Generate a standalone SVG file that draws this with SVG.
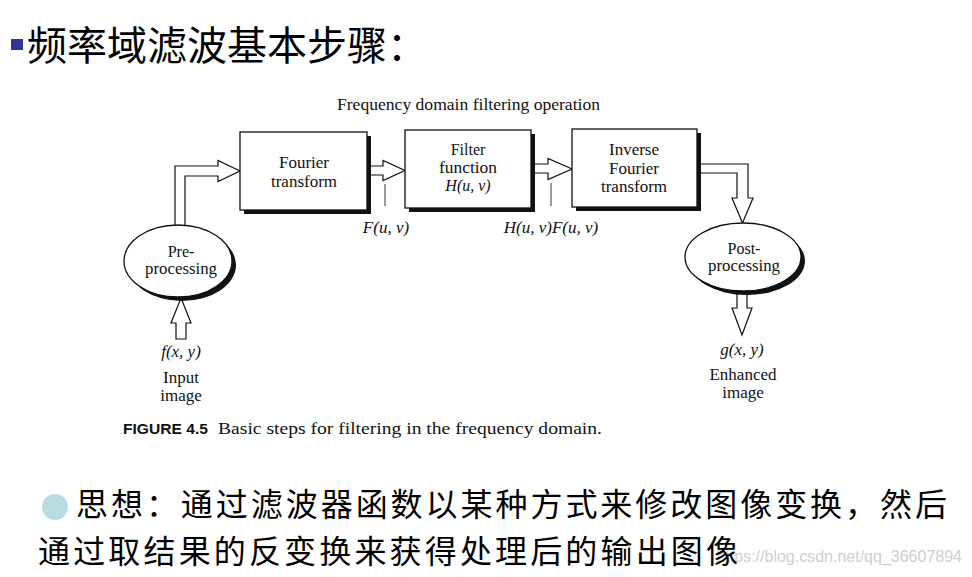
<svg xmlns="http://www.w3.org/2000/svg" width="972" height="577" viewBox="0 0 972 577">
<style>
.cjk{font-family:"Noto Sans CJK SC",sans-serif;fill:#000}
.t{font-family:"Liberation Serif",serif;font-size:17px;fill:#111;text-anchor:middle}
.e{font-family:"Liberation Serif",serif;font-size:16px;fill:#111;text-anchor:middle}
.m{font-family:"Liberation Serif",serif;font-size:17px;font-style:italic;fill:#111;text-anchor:middle}
.box{fill:#fff;stroke:#111;stroke-width:1.3}
.sh{fill:#111}
.arr{fill:#fff;stroke:#111;stroke-width:1.2;stroke-linejoin:miter}
.ln{stroke:#333;stroke-width:1}
</style>
<rect width="972" height="577" fill="#fff"/>
<g id="title">
<rect x="11" y="39" width="12" height="11" fill="#333399"/>
<text class="cjk" x="27" y="60" font-size="40">频率域滤波基本步骤：</text>
</g>
<text x="337" y="110" font-family="Liberation Serif,serif" font-size="16.5" fill="#111" textLength="263" lengthAdjust="spacingAndGlyphs">Frequency domain filtering operation</text>
<g id="connectors">
<path class="arr" d="M175,236 V166 H218 V160.5 L240,171 L218,181.5 V176 H185 V236"/>
<path class="arr" d="M367,166 H383 V160.5 L405,170.5 L383,180.5 V175 H367"/>
<path class="arr" d="M531,164 H548 V158.5 L572,169 L548,179.5 V173 H531"/>
<path class="arr" d="M697,164 H748 V198 H753 L742.5,223 L732,198 H737 V173 H697"/>
<path class="arr" d="M181,298 L191,323 H186 V339 H176 V323 H171 Z"/>
<path class="arr" d="M737,288 V308 H732 L742,335 L752,308 H747 V288"/>
<line class="ln" x1="385" y1="184" x2="385" y2="206"/>
<line class="ln" x1="551" y1="183" x2="551" y2="206"/>
</g>
<g id="fourier">
<rect class="sh" x="244" y="136" width="127" height="78"/>
<rect class="box" x="240" y="132" width="127" height="78"/>
<text class="t" x="304" y="168">Fourier</text>
<text class="t" x="304" y="187">transform</text>
</g>
<g id="filter">
<rect class="sh" x="409" y="134" width="126" height="78"/>
<rect class="box" x="405" y="130" width="126" height="78"/>
<text class="e" x="468" y="155">Filter</text>
<text class="e" x="468" y="173" textLength="58" lengthAdjust="spacingAndGlyphs">function</text>
<text class="e" x="468" y="191" font-style="italic">H(u, v)</text>
</g>
<g id="inverse">
<rect class="sh" x="576" y="133" width="125" height="78"/>
<rect class="box" x="572" y="129" width="125" height="78"/>
<text class="t" x="634" y="155">Inverse</text>
<text class="t" x="634" y="174">Fourier</text>
<text class="t" x="634" y="192">transform</text>
</g>
<g id="pre">
<ellipse class="sh" cx="182" cy="265" rx="54" ry="36"/>
<ellipse class="box" cx="178" cy="261" rx="54" ry="36"/>
<text class="e" x="181" y="257">Pre-</text>
<text class="e" x="181" y="274" textLength="72" lengthAdjust="spacingAndGlyphs">processing</text>
</g>
<g id="post">
<ellipse class="sh" cx="747" cy="261" rx="58" ry="34"/>
<ellipse class="box" cx="743" cy="257" rx="58" ry="34"/>
<text class="e" x="744" y="254">Post-</text>
<text class="e" x="744" y="271" textLength="72" lengthAdjust="spacingAndGlyphs">processing</text>
</g>
<g id="input">
<text class="m" x="181" y="357">f(x, y)</text>
<text class="t" x="181" y="383">Input</text>
<text class="t" x="181" y="401">image</text>
</g>
<g id="output">
<text class="m" x="742" y="355">g(x, y)</text>
<text class="t" x="743" y="380">Enhanced</text>
<text class="t" x="743" y="398">image</text>
</g>
<text class="m" x="386" y="233">F(u, v)</text>
<text class="m" x="551" y="233">H(u, v)F(u, v)</text>
<g id="caption">
<text x="123" y="434" font-family="Liberation Sans,sans-serif" font-weight="bold" font-size="15" fill="#111" textLength="85" lengthAdjust="spacingAndGlyphs">FIGURE 4.5</text>
<text x="218" y="434" font-family="Liberation Serif,serif" font-size="16.5" fill="#111" textLength="384" lengthAdjust="spacingAndGlyphs">Basic steps for filtering in the frequency domain.</text>
</g>
<text x="962" y="562" font-family="Liberation Sans,sans-serif" font-size="16" fill="#cfcfcf" text-anchor="end">https://blog.csdn.net/qq_36607894</text>
<g id="idea">
<circle cx="55" cy="507" r="13" fill="#b7dde3"/>
<text class="cjk" x="76" y="516" font-size="32" textLength="871" lengthAdjust="spacing">思想：通过滤波器函数以某种方式来修改图像变换，然后</text>
<text class="cjk" x="38" y="562.5" font-size="32" textLength="700" lengthAdjust="spacing">通过取结果的反变换来获得处理后的输出图像</text>
</g>
</svg>
